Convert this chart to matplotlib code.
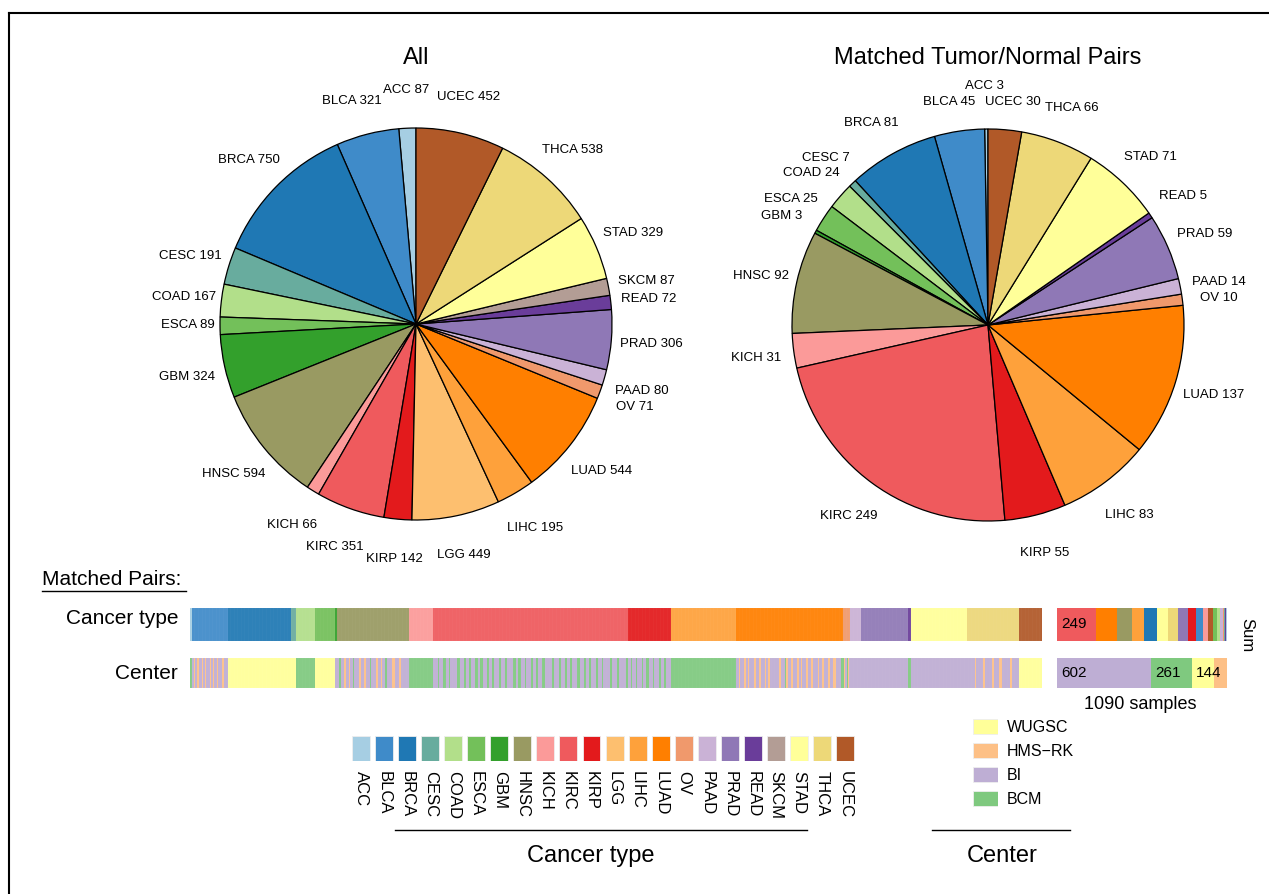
import numpy as np
import matplotlib
matplotlib.use("Agg")
import matplotlib.pyplot as plt

plt.rcParams['font.family'] = ['Liberation Sans', 'DejaVu Sans']

W, H = 1269, 894

# ---- data ----
cancers = ["ACC", "BLCA", "BRCA", "CESC", "COAD", "ESCA", "GBM", "HNSC", "KICH", "KIRC", "KIRP",
           "LGG", "LIHC", "LUAD", "OV", "PAAD", "PRAD", "READ", "SKCM", "STAD", "THCA", "UCEC"]
cancer_colors = ["#A6CEE3", "#3F8BC9", "#1F78B4", "#68AC9E", "#B2DF8A", "#73C05A", "#33A02C",
                 "#999A62", "#FB9A99", "#EF5A5D", "#E31A1C", "#FDBF6F", "#FEA13B", "#FF7F00",
                 "#F0996C", "#CAB2D6", "#8F78B6", "#6A3D9A", "#B39D95", "#FFFF99", "#EDD878", "#B15928"]
all_counts = [87, 321, 750, 191, 167, 89, 324, 594, 66, 351, 142,
              449, 195, 544, 71, 80, 306, 72, 87, 329, 538, 452]
matched_counts = [3, 45, 81, 7, 24, 25, 3, 92, 31, 249, 55,
                  0, 83, 137, 10, 14, 59, 5, 0, 71, 66, 30]

centers = ["WUGSC", "HMS\u2212RK", "BI", "BCM"]
center_codes = ["W", "H", "I", "C"]
center_colors = ["#FFFF99", "#FDC086", "#BEAED4", "#7FC97F"]

# per-sample sequencing center inside each cancer type (run lengths)
center_runs = {
    "ACC": "C3",
    "BLCA": "I2 H1 I3 H2 I4 H1 I3 H1 I5 H2 I3 H1 I4 H1 I5 H3 I4",
    "BRCA": "W81",
    "CESC": "W7",
    "COAD": "C24",
    "ESCA": "W25",
    "GBM": "W1 I2",
    "HNSC": "I3 C2 I4 H2 I5 H1 I3 C2 I6 H3 I4 H2 I5 C2 I6 H2 I4 H1 I5 C2 I7 H3 I6 H2 I10",
    "KICH": "C31",
    "KIRC": "I6 C2 I5 C3 I4 C2 I8 C4 I5 C3 I4 C2 I6 C3 I3 C4 I5 C2 I4 C3 I6 C3 I5 C2 I8 C4 I3 C3 "
            "I5 C2 I6 C3 I4 C2 I5 C4 I9 C3 I6 C3 I5 C2 I4 C3 I6 C4 I5 C2 I4 C3 I6 C3 I5 C2 I8 C3 "
            "I6 C3 I9 C2",
    "KIRP": "I4 C2 I5 C1 I6 C2 I4 C3 I5 C2 I6 C2 I4 C3 I6",
    "LGG": "",
    "LIHC": "C83",
    "LUAD": "I4 H2 I5 H2 I3 H1 I6 H3 I4 H2 I5 H2 I3 H2 I6 H1 I4 H3 I5 C2 H2 I4 H2 I6 H2 I3 H1 "
            "I5 H3 I4 H2 I6 H2 I4 H2 I5 H3 I4 H3 I7 C2",
    "OV": "C2 H1 I2 C2 H1 I2",
    "PAAD": "I14",
    "PRAD": "I59",
    "READ": "C5",
    "SKCM": "",
    "STAD": "I71",
    "THCA": "I10 H2 I8 H3 I9 H2 I7 H4 I10 H2 I9",
    "UCEC": "W30",
}

# label positions (pixel, text centre height) for the two pies
all_label_pos = {
    "ACC": (383, 88, "left"), "BLCA": (382, 99, "right"), "UCEC": (437, 95, "left"),
    "THCA": (542, 148, "left"), "STAD": (603, 231, "left"), "SKCM": (618, 279, "left"),
    "READ": (621, 297, "left"), "PRAD": (620, 342, "left"), "PAAD": (615, 389, "left"),
    "OV": (616, 405, "left"), "LUAD": (571, 469, "left"), "LIHC": (507, 526, "left"),
    "LGG": (437, 553, "left"), "KIRP": (423, 557, "right"), "KIRC": (364, 545, "right"),
    "KICH": (317, 523, "right"), "HNSC": (265, 472, "right"), "GBM": (215, 375, "right"),
    "ESCA": (215, 323, "right"), "COAD": (216, 295, "right"), "CESC": (222, 254, "right"),
    "BRCA": (280, 158, "right"),
}
matched_label_pos = {
    "ACC": (965, 84, "left"), "BLCA": (975, 100, "right"), "UCEC": (985, 100, "left"),
    "THCA": (1045, 106, "left"), "STAD": (1124, 155, "left"), "READ": (1159, 194, "left"),
    "PRAD": (1177, 232, "left"), "PAAD": (1192, 280, "left"), "OV": (1200, 296, "left"),
    "LUAD": (1183, 393, "left"), "LIHC": (1105, 513, "left"), "KIRP": (1020, 551, "left"),
    "KIRC": (877, 514, "right"), "KICH": (781, 356, "right"), "HNSC": (789, 274, "right"),
    "GBM": (802, 214, "right"), "ESCA": (818, 197, "right"), "COAD": (840, 171, "right"),
    "CESC": (850, 156, "right"), "BRCA": (899, 121, "right"),
}


def rect(x0, y0, x1, y1):
    return [x0 / W, 1 - y1 / H, (x1 - x0) / W, (y1 - y0) / H]


fig = plt.figure(figsize=(W / 100, H / 100), dpi=100)

# overlay in pixel coordinates for free text and rules
ov = fig.add_axes([0, 0, 1, 1])
ov.set_xlim(0, W)
ov.set_ylim(H, 0)
ov.axis("off")
ov.set_zorder(10)


def ptext(x, y, s, size, ha="center", rot=0):
    # y is the visual centre of capital letters
    ov.text(x, y + 0.716 * size * 100 / 72 / 2, s, fontsize=size, ha=ha, va="baseline",
            rotation=rot)


# border
ov.plot([9, W], [13, 13], color="black", lw=1.5, clip_on=False)
ov.plot([9, 9], [13, H], color="black", lw=1.5, clip_on=False)


# ---- pies ----
def draw_pie(cx, cy, r, counts, label_pos, title):
    ax = fig.add_axes(rect(cx - r, cy - r, cx + r, cy + r))
    keep = [i for i, v in enumerate(counts) if v > 0]
    ax.pie([counts[i] for i in keep], colors=[cancer_colors[i] for i in keep],
           startangle=90, counterclock=True,
           wedgeprops=dict(edgecolor="black", linewidth=0.9))
    ax.set_xlim(-1, 1)
    ax.set_ylim(-1, 1)
    ax.axis("off")
    for i in keep:
        x, y, ha = label_pos[cancers[i]]
        ptext(x, y, f"{cancers[i]} {counts[i]}", 9.5, ha=ha)
    ptext(cx, 56, title, 17)


draw_pie(416, 324, 196, all_counts, all_label_pos, "All")
draw_pie(988, 325, 196, matched_counts, matched_label_pos, "Matched Tumor/Normal Pairs")

# ---- per-sample strips ----
sample_type = []
sample_center = []
for i, c in enumerate(cancers):
    sample_type += [i] * matched_counts[i]
    seq = []
    for tok in center_runs[c].split():
        seq += [center_codes.index(tok[0])] * int(tok[1:])
    if len(seq) != matched_counts[i]:
        print("center run mismatch", c, len(seq), matched_counts[i])
    sample_center += seq
n = len(sample_type)
seam = (1, 1, 1, 0.16)

ax_t = fig.add_axes(rect(190, 608, 1042, 641))
ax_t.bar(np.arange(n), 1, width=1, align="edge", linewidth=0.2, edgecolor=seam,
         color=[cancer_colors[i] for i in sample_type])
ax_t.set_xlim(0, n)
ax_t.set_ylim(0, 1)
ax_t.axis("off")

ax_c = fig.add_axes(rect(190, 658, 1042, 688))
ax_c.bar(np.arange(len(sample_center)), 1, width=1, align="edge", linewidth=0.2, edgecolor=seam,
         color=[center_colors[i] for i in sample_center])
ax_c.set_xlim(0, n)
ax_c.set_ylim(0, 1)
ax_c.axis("off")


# ---- sum bars ----
def sum_bar(box, counts, colors, min_label):
    ax = fig.add_axes(rect(*box))
    order = sorted([i for i, v in enumerate(counts) if v > 0], key=lambda i: -counts[i])
    left = 0
    for i in order:
        ax.barh(0, counts[i], left=left, height=1, color=colors[i], linewidth=0)
        if counts[i] >= min_label:
            ax.annotate(str(counts[i]), xy=(left, 0), xytext=(3, 0), textcoords="offset points",
                        ha="left", va="center", fontsize=11)
        left += counts[i]
    ax.set_xlim(0, sum(counts))
    ax.set_ylim(-0.5, 0.5)
    ax.axis("off")


center_totals = [sample_center.count(k) for k in range(len(centers))]
sum_bar((1057, 608, 1227, 641), matched_counts, cancer_colors, 200)
sum_bar((1057, 658, 1227, 688), center_totals, center_colors, 100)

ptext(1247, 643, "Sum", 12, rot=-90)
ptext(1140, 703, f"{n} samples", 13)

# row labels
ptext(42, 578, "Matched Pairs:", 15, ha="left")
ov.plot([42, 186], [590.5, 590.5], color="black", lw=1)
ptext(178, 617, "Cancer type", 15, ha="right")
ptext(178, 672, "Center", 15, ha="right")

# ---- legends ----
step = 23.05
lg = fig.add_axes(rect(361 - step / 2, 735.5, 361 + 21 * step + step / 2, 761))
lg.bar(np.arange(len(cancers)), 1, width=0.78, color=cancer_colors, edgecolor="#eeeeee",
       linewidth=0.6)
lg.set_xlim(-0.5, len(cancers) - 0.5)
lg.set_ylim(0, 1)
lg.set_xticks(np.arange(len(cancers)))
lg.set_xticklabels(cancers, rotation=-90, fontsize=12)
lg.tick_params(axis="x", length=0, pad=7.5)
lg.set_yticks([])
for s in lg.spines.values():
    s.set_visible(False)
lg.patch.set_visible(False)

lc = fig.add_axes(rect(973, 714.5, 998, 810.5))
lc.barh(np.arange(len(centers)), 1, height=0.625, color=center_colors, edgecolor="#eeeeee",
        linewidth=0.6)
lc.set_ylim(len(centers) - 0.5, -0.5)
lc.set_xlim(0, 1)
lc.set_yticks(np.arange(len(centers)))
lc.set_yticklabels(centers, fontsize=11.5)
lc.yaxis.tick_right()
lc.tick_params(axis="y", length=0, pad=6.5)
lc.set_xticks([])
for s in lc.spines.values():
    s.set_visible(False)
lc.patch.set_visible(False)

ov.plot([395, 807], [830, 830], color="black", lw=1)
ptext(591, 854, "Cancer type", 17)
ov.plot([932, 1070], [830, 830], color="black", lw=1)
ptext(1002, 854, "Center", 17)

fig.savefig("out.png", dpi=100)
